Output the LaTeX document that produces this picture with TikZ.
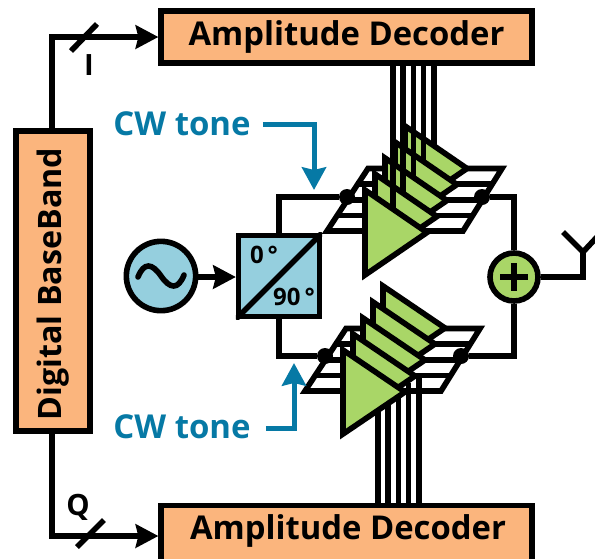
\documentclass[tikz,border=0pt]{standalone}
\usepackage{fontspec}
\setmainfont{Open Sans}
\usepackage{xcolor}
\usetikzlibrary{arrows.meta,positioning,calc}
\definecolor{softorange}{RGB}{251,181,125}
\definecolor{softblue}{RGB}{149,207,222}
\definecolor{softgreen}{RGB}{169,214,103}
\definecolor{tealtext}{RGB}{6,121,165}
\tikzset{
  block/.style={rectangle, draw=black, line width=4.2pt, fill=softorange, inner sep=0pt, font=\bfseries\fontsize{24.6}{28}\selectfont},
  wire/.style={draw=black, line width=4.2pt},
  arrow/.style={wire, -{Stealth[length=17pt, width=17.5pt, inset=2pt]}},
  cwarrow/.style={draw=tealtext, line width=3.75pt, -{Stealth[length=17pt, width=18pt, inset=2pt]}},
  cwtext/.style={text=tealtext, font=\bfseries\fontsize{24.7}{28}\selectfont, inner sep=0pt},
  amp/.style={wire, fill=softgreen},
  cell/.style={wire, fill=white},
  dot/.style={circle, fill=black, minimum size=12pt, inner sep=0pt},
  label/.style={font=\bfseries\fontsize{#1}{#1}\selectfont, inner sep=0pt}
}
\begin{document}
\begin{tikzpicture}[x=0.75pt, y=-0.75pt]
\useasboundingbox (0,0) rectangle (595,558);
\node[block, minimum width=278pt, minimum height=39pt] (dectop) at (346.5,37) {Amplitude Decoder};
\node[block, minimum width=278pt, minimum height=44pt] (decbot) at (346.5,535) {};
\node[label=24.6] (dectext) at (348,531) {Amplitude Decoder};
\node[block, rotate=90, minimum width=225pt, minimum height=55.5pt, font=\bfseries\fontsize{24.2}{28}\selectfont] (dbb) at (53,281) {Digital BaseBand\hspace*{4.5pt}};
\node[circle, draw=black, line width=4.2pt, fill=softblue, minimum size=52pt, inner sep=0pt] (osc) at (161,276) {};
\node[rectangle, draw=black, line width=4.2pt, fill=softblue, minimum size=60.5pt, inner sep=0pt] (split) at (279,276) {};
\node[circle, draw=black, line width=4.2pt, fill=softgreen, minimum size=36pt, inner sep=0pt] (summer) at (514,277) {};
\node[cwtext] (cwa) at (182,124) {CW tone};
\node[cwtext] (cwb) at (182,427) {CW tone};
\node[label=18] (zero) at (264,255) {0\,°};
\node[label=18] (ninety) at (294,297) {90\,°};
\node[label=22] (ilabel) at (89,65) {I};
\node[label=22] (qlabel) at (78,507) {Q};
% data lines to the decoders
\coordinate (ionear) at (52,37);
\coordinate (qonear) at (52,536);
\draw[arrow] (dbb.east -| ionear) -- (ionear) -- (dectop.west |- ionear);
\draw[arrow] (dbb.west -| qonear) -- (qonear) -- (decbot.west |- qonear);
\draw[wire] (71,51) -- (97,24);
\draw[wire] (77,547) -- (104,520);
% upper bank
\begin{scope}[shift={(365,190)}]
\draw[cell] (-38,41) -- (98,41) -- (137,-21.5) -- (3,-21.5) -- cycle;
\foreach \i in {1,2,3}
  \draw[wire] ({-38+9.75*\i},{41-15.6*\i}) -- ({98+9.75*\i},{41-15.6*\i});
\foreach \i [evaluate=\i as \dx using \i*10, evaluate=\i as \dy using -\i*16] in {4,3,2,1,0} {
  \draw[amp] (\dx,\dy) -- ++(0,85) -- ++(62,-42.5) -- cycle;
  \coordinate (gateu\i) at ({28+10.2*\i},{19.2+\dy});
  \draw[wire] (gateu\i) -- (gateu\i |- dectop.south);
}
\end{scope}
% lower bank
\begin{scope}[shift={(343,350)}]
\draw[cell] (-38,41) -- (98,41) -- (137,-21.5) -- (3,-21.5) -- cycle;
\foreach \i in {1,2,3}
  \draw[wire] ({-38+9.75*\i},{41-15.6*\i}) -- ({98+9.75*\i},{41-15.6*\i});
\foreach \i/\gy in {0/61,1/53,2/47,3/33,4/23} {
  \coordinate (gatel\i) at ({35+10.2*\i},\gy);
  \draw[wire] (gatel\i) -- (gatel\i |- decbot.north);
}
\foreach \i [evaluate=\i as \dx using \i*10, evaluate=\i as \dy using -\i*16] in {4,3,2,1,0}
  \draw[amp] (\dx,\dy) -- ++(0,84) -- ++(62,-42) -- cycle;
\end{scope}
\node[dot] (dotua) at (347,197) {};
\node[dot] (dotub) at (482,197) {};
\node[dot] (dotla) at (325,356) {};
\node[dot] (dotlb) at (461,356) {};
% oscillator and splitter
\draw[arrow] (osc.east |- 0,277) -- (split.west |- 0,277);
\begin{scope}
\clip (split.south west) rectangle (split.north east);
\draw[wire] (split.south west) -- (split.north east);
\end{scope}
\draw[wire, line cap=round] (138,277) .. controls (144,262) and (152,263) .. (161,276) .. controls (170,289) and (178,290) .. (184,275);
\draw[wire] (dotua) -| (split.north);
\draw[wire] (dotla) -| (split.south);
\draw[wire] (dotub) -| (summer.north);
\draw[wire] (dotlb) -| (summer.south);
% plus of the summer
\draw[wire] ($(summer.center)+(-14,0)$) -- ($(summer.center)+(14,0)$);
\draw[wire] ($(summer.center)+(0,-14)$) -- ($(summer.center)+(0,14)$);
% antenna
\coordinate (antfoot) at (583,277);
\coordinate (anttop) at (583,252);
\coordinate (antl) at (563,232);
\coordinate (antr) at (597,237);
\draw[wire] (summer) -- (antfoot) -- (anttop) -- (antl);
\draw[wire] (anttop) -- (antr);
% tones
\coordinate (cwabend) at (314,124);
\coordinate (cwatip) at (314,190);
\coordinate (cwbbend) at (294,428);
\coordinate (cwbtip) at (294,363);
\draw[cwarrow] (cwa.east) ++(12,0) -- (cwabend) -- (cwatip);
\draw[cwarrow] (cwb.east) ++(15,1) -- (cwbbend) -- (cwbtip);
\end{tikzpicture}
\end{document}
